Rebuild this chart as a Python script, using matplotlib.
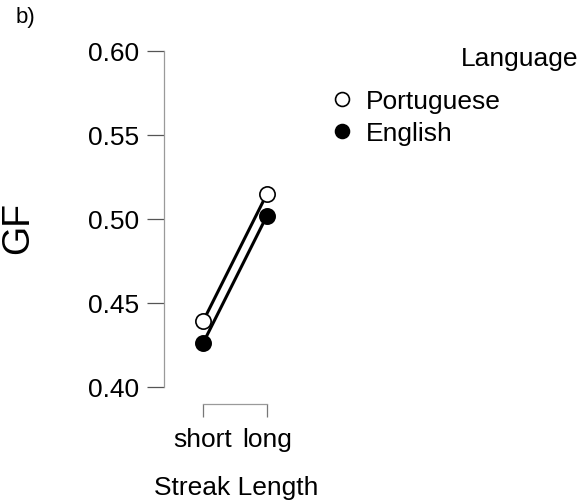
import matplotlib
matplotlib.use("Agg")
import matplotlib.pyplot as plt
from matplotlib.lines import Line2D

plt.rcParams['font.family'] = ['Liberation Sans', 'DejaVu Sans']

# streak length conditions and mean GF per language
conditions = ["short", "long"]
gf_portuguese = [0.439, 0.515]
gf_english = [0.426, 0.502]
y_ticks = [0.40, 0.45, 0.50, 0.55, 0.60]

W, H = 582, 502
fig = plt.figure(figsize=(W / 100, H / 100), dpi=100)

# axes box in pixels: left 164, right 305, top 52, bottom 388
ax = fig.add_axes([164 / W, 1 - 388 / H, (305 - 164) / W, (388 - 52) / H])
x = list(range(len(conditions)))

ax.plot(x, gf_english, color="black", lw=2.2, marker="o", ms=11,
        mfc="black", mec="black", mew=1.2, clip_on=False, zorder=3)
ax.plot(x, gf_portuguese, color="black", lw=2.2, marker="o", ms=11,
        mfc="white", mec="black", mew=1.2, clip_on=False, zorder=4)

ax.set_xlim(-0.609, 1.594)
ax.set_ylim(0.40, 0.60)
ax.set_yticks(y_ticks, [f"{t:.2f}" for t in y_ticks])
ax.set_xticks(x, conditions)

for s in ["top", "right"]:
    ax.spines[s].set_visible(False)
ax.spines["left"].set_color("#9a9a9a")
ax.spines["left"].set_linewidth(0.9)
ax.spines["left"].set_bounds(0.40, 0.60)
ax.spines["bottom"].set_color("#9a9a9a")
ax.spines["bottom"].set_linewidth(0.9)
ax.spines["bottom"].set_bounds(0, 1)
ax.spines["bottom"].set_position(("outward", 12.2))

ax.tick_params(axis="y", length=12.5, width=0.9, color="#555555",
               labelsize=19, pad=5.5)
ax.tick_params(axis="x", length=9.4, width=0.9, color="#777777",
               labelsize=19, pad=7)

fig.text(18.5 / W, 1 - 228 / H, "GF", rotation=90, fontsize=27,
         ha="center", va="center")
fig.text(236 / W, 1 - 488 / H, "Streak Length", fontsize=19,
         ha="center", va="center")
fig.text(16 / W, 1 - 18 / H, "b)", fontsize=16, ha="left", va="center")

# legend
fig.text(578 / W, 1 - 59 / H, "Language", fontsize=19, ha="right", va="center")
handles = [
    Line2D([], [], ls="none", marker="o", ms=10, mfc="white", mec="black", mew=1.2),
    Line2D([], [], ls="none", marker="o", ms=10, mfc="black", mec="black", mew=1.2),
]
fig.legend(handles, ["Portuguese", "English"], loc="upper left",
           bbox_to_anchor=(330 / W, 1 - 90 / H), frameon=False, fontsize=19,
           handlelength=0.9, handletextpad=0.45, labelspacing=0.3,
           borderpad=0, borderaxespad=0)

fig.savefig("out.png", dpi=100)
